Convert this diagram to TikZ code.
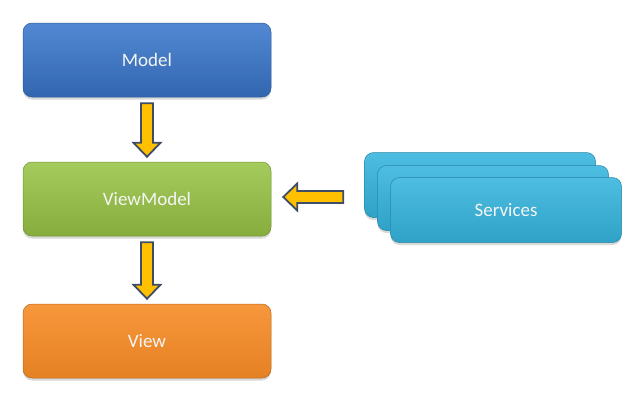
\documentclass[tikz,border=0pt]{standalone}
\usepackage{fontspec}
\setmainfont{Carlito}
\usepackage{tikz}
\usetikzlibrary{calc,shadows}
\definecolor{arrowfill}{HTML}{FFC000}
\definecolor{arrowline}{HTML}{3E4C66}
\tikzset{layer/.style={rounded corners=9pt, minimum width=248pt, minimum height=74pt, draw=#1!75!black, line width=.5pt,
    text=white!96!black, font=\fontsize{19}{22}\selectfont,
    drop shadow={shadow xshift=0pt, shadow yshift=-2.5pt, opacity=.3}},
  model/.style={layer=modelblue, top color=modelblue!88!white, bottom color=modelblue!85!black},
  viewmodel/.style={layer=vmgreen, top color=vmgreen!88!white, bottom color=vmgreen!88!black},
  view/.style={layer=vieworange, top color=vieworange!90!white, bottom color=vieworange!93!black},
  service/.style={layer=svccyan, minimum width=231pt, minimum height=65pt, top color=svccyan!88!white, bottom color=svccyan!90!black},
  fatarrow/.style={fill=arrowfill, draw=arrowline, line width=1.8pt, line join=miter}}
\definecolor{modelblue}{HTML}{3B78CE}
\definecolor{vmgreen}{HTML}{98C446}
\definecolor{vieworange}{HTML}{F68B26}
\definecolor{svccyan}{HTML}{35B4DD}
% block arrow from #1 to #2
\newcommand{\fatarrow}[2]{
\coordinate (fa-s) at (#1);
\coordinate (fa-t) at (#2);
\coordinate (fa-n) at ($(fa-t)!14pt!(fa-s)$);
\draw[fatarrow] ($(fa-s)!6pt!90:(fa-t)$) -- ($(fa-n)!6pt!90:(fa-t)$) -- ($(fa-n)!13.5pt!90:(fa-t)$) -- (fa-t)
  -- ($(fa-n)!13.5pt!-90:(fa-t)$) -- ($(fa-n)!6pt!-90:(fa-t)$) -- ($(fa-s)!6pt!-90:(fa-t)$) -- cycle;
}

\begin{document}
\begin{tikzpicture}[x=1pt,y=-1pt]
\useasboundingbox (0,0) rectangle (640,405);
\node[model] (model) at (147,60) {Model};
\node[viewmodel] (vm) at (147,199) {ViewModel};
\node[view] (view) at (147,341) {View};
\node[service] (svc1) at (480,185) {};
\node[service] (svc2) at (493,198) {};
\node[service] (svc3) at (506,210) {Services};
\fatarrow{$(model.south)+(0,6)$}{$(vm.north)+(0,-5)$}
\fatarrow{$(vm.south)+(0,6)$}{$(view.north)+(0,-5)$}
\coordinate (vmin) at ($(vm.east)+(12,-2)$);
\fatarrow{$(svc1.west |- vmin)+(-21,0)$}{vmin}
\end{tikzpicture}
\end{document}
